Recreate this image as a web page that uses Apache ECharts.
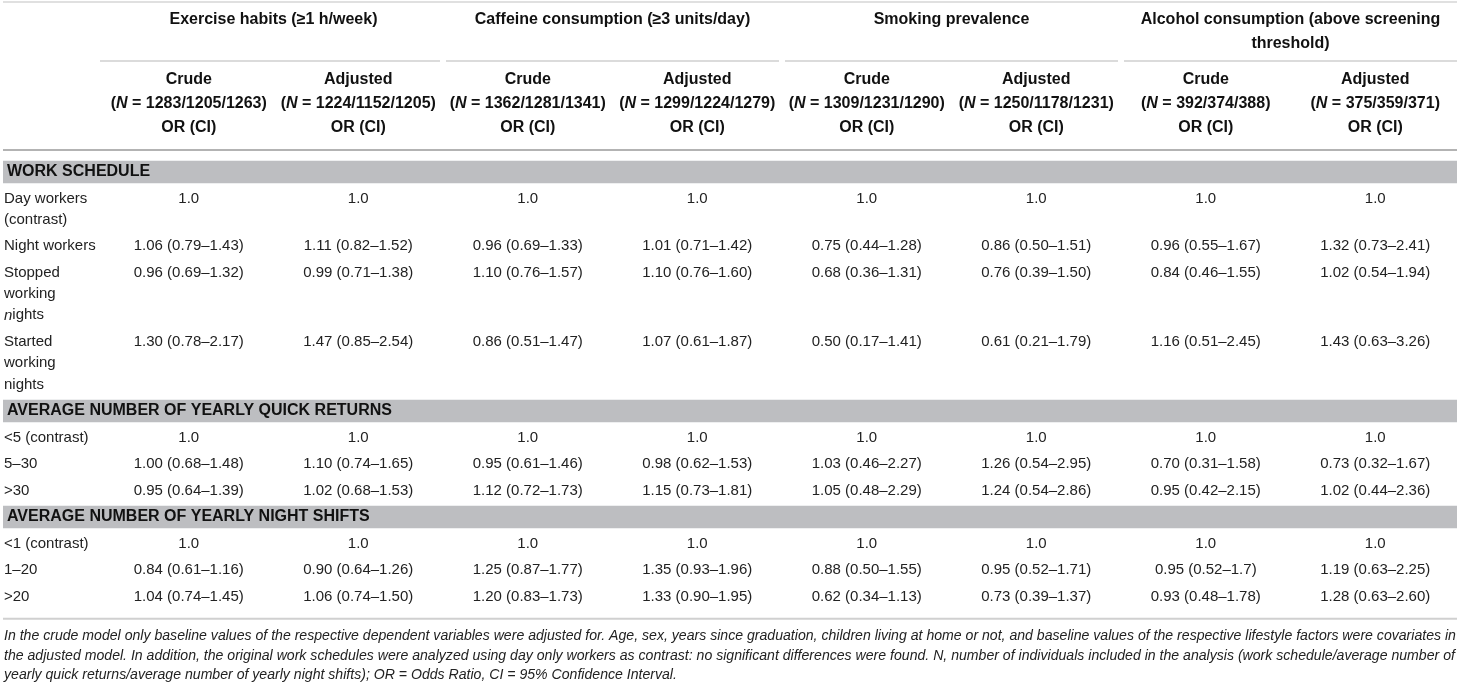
<!DOCTYPE html>
<html>
<head>
<meta charset="utf-8">
<script src="https://cdn.jsdelivr.net/npm/echarts@6/dist/echarts.min.js"></script>
<style>
  html, body { margin: 0; padding: 0; background: #fff; }
  #table { width: 1460px; height: 684px; }
</style>
</head>
<body>
<div id="table"></div>
<script>
'use strict';

// 表头
var groups = [
  'Exercise habits (\u22651 h/week)',
  'Caffeine consumption (\u22653 units/day)',
  'Smoking prevalence',
  'Alcohol consumption (above screening\nthreshold)'
];
var models = ['Crude', 'Adjusted'];
var sampleSizes = [
  '1283/1205/1263', '1224/1152/1205',
  '1362/1281/1341', '1299/1224/1279',
  '1309/1231/1290', '1250/1178/1231',
  '392/374/388', '375/359/371'
];
var sections = [
  'WORK SCHEDULE',
  'AVERAGE NUMBER OF YEARLY QUICK RETURNS',
  'AVERAGE NUMBER OF YEARLY NIGHT SHIFTS'
];

// 行标签
var workLabels = ['Day workers\n(contrast)', 'Night workers', 'Stopped\nworking\n{i|n}ights', 'Started\nworking\nnights'];
var quickLabels = ['<5 (contrast)', '5\u201330', '>30'];
var nightLabels = ['<1 (contrast)', '1\u201320', '>20'];

// OR (CI)
var workValues = [
  ['1.0', '1.0', '1.0', '1.0', '1.0', '1.0', '1.0', '1.0'],
  ['1.06 (0.79\u20131.43)', '1.11 (0.82\u20131.52)', '0.96 (0.69\u20131.33)', '1.01 (0.71\u20131.42)', '0.75 (0.44\u20131.28)', '0.86 (0.50\u20131.51)', '0.96 (0.55\u20131.67)', '1.32 (0.73\u20132.41)'],
  ['0.96 (0.69\u20131.32)', '0.99 (0.71\u20131.38)', '1.10 (0.76\u20131.57)', '1.10 (0.76\u20131.60)', '0.68 (0.36\u20131.31)', '0.76 (0.39\u20131.50)', '0.84 (0.46\u20131.55)', '1.02 (0.54\u20131.94)'],
  ['1.30 (0.78\u20132.17)', '1.47 (0.85\u20132.54)', '0.86 (0.51\u20131.47)', '1.07 (0.61\u20131.87)', '0.50 (0.17\u20131.41)', '0.61 (0.21\u20131.79)', '1.16 (0.51\u20132.45)', '1.43 (0.63\u20133.26)']
];
var quickValues = [
  ['1.0', '1.0', '1.0', '1.0', '1.0', '1.0', '1.0', '1.0'],
  ['1.00 (0.68\u20131.48)', '1.10 (0.74\u20131.65)', '0.95 (0.61\u20131.46)', '0.98 (0.62\u20131.53)', '1.03 (0.46\u20132.27)', '1.26 (0.54\u20132.95)', '0.70 (0.31\u20131.58)', '0.73 (0.32\u20131.67)'],
  ['0.95 (0.64\u20131.39)', '1.02 (0.68\u20131.53)', '1.12 (0.72\u20131.73)', '1.15 (0.73\u20131.81)', '1.05 (0.48\u20132.29)', '1.24 (0.54\u20132.86)', '0.95 (0.42\u20132.15)', '1.02 (0.44\u20132.36)']
];
var nightValues = [
  ['1.0', '1.0', '1.0', '1.0', '1.0', '1.0', '1.0', '1.0'],
  ['0.84 (0.61\u20131.16)', '0.90 (0.64\u20131.26)', '1.25 (0.87\u20131.77)', '1.35 (0.93\u20131.96)', '0.88 (0.50\u20131.55)', '0.95 (0.52\u20131.71)', '0.95 (0.52\u20131.7)', '1.19 (0.63\u20132.25)'],
  ['1.04 (0.74\u20131.45)', '1.06 (0.74\u20131.50)', '1.20 (0.83\u20131.73)', '1.33 (0.90\u20131.95)', '0.62 (0.34\u20131.13)', '0.73 (0.39\u20131.37)', '0.93 (0.48\u20131.78)', '1.28 (0.63\u20132.60)']
];

// 脚注
var footnoteLines = [
  'In the crude model only baseline values of the respective dependent variables were adjusted for. Age, sex, years since graduation, children living at home or not, and baseline values of the respective lifestyle factors were covariates in',
  'the adjusted model. In addition, the original work schedules were analyzed using day only workers as contrast: no significant differences were found. N, number of individuals included in the analysis (work schedule/average number of',
  'yearly quick returns/average number of yearly night shifts); OR = Odds Ratio, CI = 95% Confidence Interval.'
];

// 版式
var FONT = '"Liberation Sans", Arial, Helvetica, sans-serif';
var ROW_H = 26.5;      // 单行高度
var LINE_H = 21.3;     // 单元格内换行
var HEAD_LINE_H = 24;
var BODY_TOP = 158.7;
var LABEL_X = 4;

var chart = echarts.init(document.getElementById('table'), null, { renderer: 'canvas' });
var columnKeys = sampleSizes.map(function (s, i) { return 'c' + i; });

// 组装单元格
var cells = [];
cells.push({ kind: 'rule', col: 0, y: 2, lineWidth: 1.2, color: '#c2c2c2' });
groups.forEach(function (g, gi) {
  cells.push({ kind: 'text', col: gi * 2, span: 2, y: 20 - HEAD_LINE_H / 2, text: g, bold: true, lh: HEAD_LINE_H });
  cells.push({ kind: 'rule', col: gi * 2, span: 2, y: 61, lineWidth: 1.5, color: '#cfcfcf' });
});
sampleSizes.forEach(function (n, i) {
  cells.push({
    kind: 'text', col: i, y: 80 - HEAD_LINE_H / 2, bold: true, lh: HEAD_LINE_H,
    text: models[i % 2] + '\n({i|N} = ' + n + ')\nOR (CI)'
  });
});
cells.push({ kind: 'rule', col: 0, y: 150, lineWidth: 2, color: '#b3b3b3' });

var sectionList = [
  { title: sections[0], labels: workLabels, values: workValues },
  { title: sections[1], labels: quickLabels, values: quickValues },
  { title: sections[2], labels: nightLabels, values: nightValues }
];
var cursor = BODY_TOP;
sectionList.forEach(function (sec) {
  cells.push({ kind: 'band', col: 0, y: cursor });
  cells.push({ kind: 'text', col: -1, x: LABEL_X + 3, y: cursor + (ROW_H - LINE_H) / 2, text: sec.title, bold: true, lh: LINE_H });
  cursor += ROW_H;
  sec.labels.forEach(function (label, ri) {
    var top = cursor + (ROW_H - LINE_H) / 2;
    cells.push({ kind: 'text', col: -1, x: LABEL_X, y: top, text: label, lh: LINE_H });
    sec.values[ri].forEach(function (v, ci) {
      cells.push({ kind: 'text', col: ci, y: top, text: v, lh: LINE_H });
    });
    cursor += ROW_H + (label.split('\n').length - 1) * LINE_H;
  });
});
cells.push({ kind: 'rule', col: 0, y: cursor + 9, lineWidth: 2, color: '#d0d0d0' });
cells.push({ kind: 'text', col: -1, x: LABEL_X, y: cursor + 17, text: footnoteLines.join('\n'), italic: true, size: 14.1, lh: 19.5 });

function renderCell(params, api) {
  var c = cells[params.dataIndex];
  var p = api.coord([api.value(0), api.value(1)]);
  var colW = api.size([1, 0])[0];
  var w = api.getWidth();

  if (c.kind === 'band') {
    return {
      type: 'rect',
      shape: { x: 3, y: p[1] + 2, width: w - 6, height: ROW_H - 4 },
      style: { fill: '#bdbec1' }
    };
  }
  if (c.kind === 'rule') {
    var x0 = 3, x1 = w - 3;
    if (c.span) {
      x0 = p[0] - colW / 2 + (c.col === 0 ? -4 : 3);
      x1 = Math.min(p[0] + colW * (c.span - 0.5) - 3, w);
    }
    return {
      type: 'line',
      shape: { x1: x0, y1: p[1], x2: x1, y2: p[1] },
      style: { stroke: c.color, lineWidth: c.lineWidth }
    };
  }
  var x, align;
  if (c.col < 0) {
    x = c.x;
    align = 'left';
  } else {
    x = p[0] + colW * ((c.span || 1) - 1) / 2;
    align = 'center';
  }
  var size = c.size || (c.bold ? 16 : 15);
  return {
    type: 'text',
    x: x,
    y: p[1],
    style: {
      text: c.text,
      align: align,
      verticalAlign: 'top',
      fontFamily: FONT,
      fontSize: size,
      fontWeight: c.bold ? 'bold' : 'normal',
      fontStyle: c.italic ? 'italic' : 'normal',
      fill: c.bold ? '#111' : '#222',
      lineHeight: c.lh,
      rich: {
        i: {
          fontFamily: FONT,
          fontSize: size,
          fontWeight: c.bold ? 'bold' : 'normal',
          fontStyle: 'italic',
          fill: c.bold ? '#111' : '#222',
          lineHeight: c.lh
        }
      }
    }
  };
}

var option = {
  animation: false,
  backgroundColor: '#fff',
  grid: { left: 104, width: 1366, top: 0, height: 684 },
  xAxis: {
    type: 'category',
    data: columnKeys,
    show: false
  },
  yAxis: {
    type: 'value',
    min: 0,
    max: 684,
    inverse: true,
    show: false
  },
  series: [{
    type: 'custom',
    clip: false,
    encode: { x: 0, y: 1 },
    data: cells.map(function (c) { return [Math.max(c.col, 0), c.y]; }),
    renderItem: renderCell,
    silent: true
  }]
};

chart.setOption(option);
</script>
</body>
</html>
